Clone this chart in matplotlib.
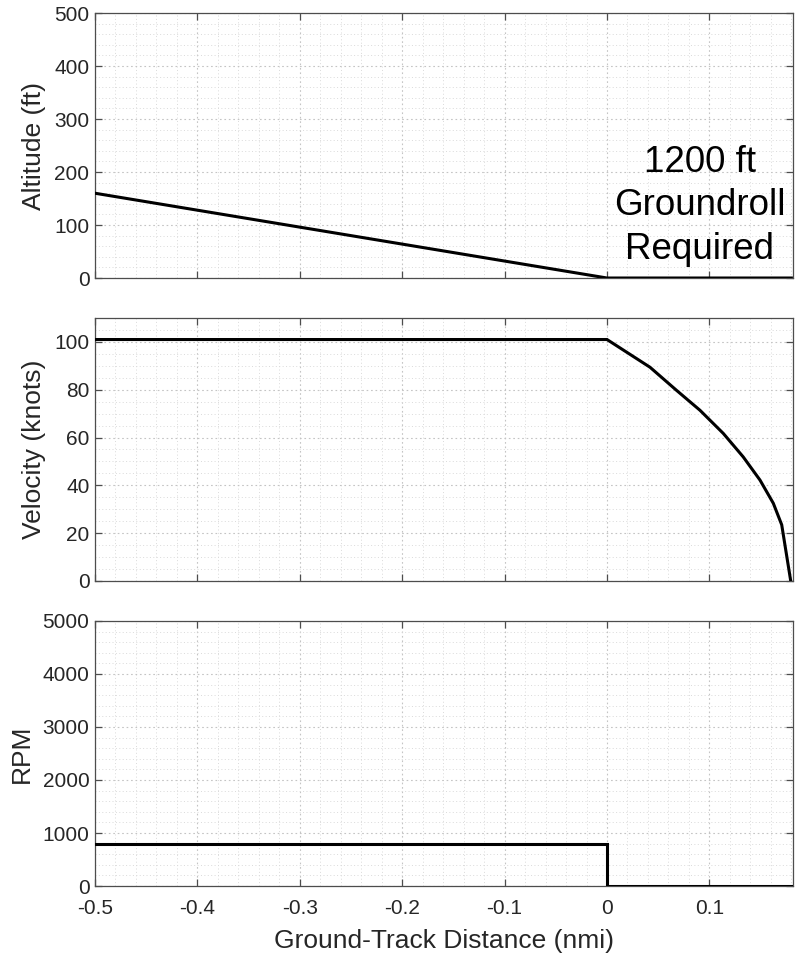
import matplotlib
matplotlib.use("Agg")
import matplotlib.pyplot as plt
from matplotlib.ticker import MultipleLocator

plt.rcParams['font.family'] = ['Liberation Sans', 'DejaVu Sans']

# Approach / groundroll profile
alt_dist = [-0.5, 0.0, 0.18]
altitude = [160, 0, 0]

vel_dist = [-0.5, 0.0, 0.0192, 0.042, 0.068, 0.0908, 0.1136, 0.133,
            0.1494, 0.1624, 0.1706, 0.1794]
velocity = [101, 101, 95.7, 89.4, 79.7, 71.4, 61.7, 51.9,
            42.2, 32.5, 23.5, 0.0]

rpm_dist = [-0.5, 0.0, 0.0, 0.18]
rpm = [800, 800, 0, 0]

xlim = (-0.5, 0.1816)
xticks = [-0.5, -0.4, -0.3, -0.2, -0.1, 0, 0.1]
xticklabels = ['-0.5', '-0.4', '-0.3', '-0.2', '-0.1', '0', '0.1']

annotation = "1200 ft\nGroundroll\nRequired"

tick_color = '#262626'
axis_color = '#4d4d4d'

fig = plt.figure(figsize=(7.98, 9.59), dpi=100)

left, width = 0.119, 0.8747
boxes = [(0.7101, 0.2763), (0.3942, 0.2742), (0.0761, 0.2764)]

panels = [
    dict(x=alt_dist, y=altitude, ylim=(0, 500), major=100, minor=20,
         ylabel='Altitude (ft)'),
    dict(x=vel_dist, y=velocity, ylim=(0, 110), major=20, minor=5,
         ylabel='Velocity (knots)'),
    dict(x=rpm_dist, y=rpm, ylim=(0, 5000), major=1000, minor=200,
         ylabel='RPM'),
]

axes = []
for (bottom, height), p in zip(boxes, panels):
    ax = fig.add_axes([left, bottom, width, height])
    ax.plot(p['x'], p['y'], color='black', linewidth=2.2, zorder=3,
            solid_joinstyle='miter')
    ax.set_xlim(*xlim)
    ax.set_ylim(*p['ylim'])
    ax.set_xticks(xticks)
    ax.xaxis.set_minor_locator(MultipleLocator(0.02))
    ax.yaxis.set_major_locator(MultipleLocator(p['major']))
    ax.yaxis.set_minor_locator(MultipleLocator(p['minor']))
    ax.grid(which='major', color='#c4c4c4', linestyle=(0, (1.5, 2.5)),
            linewidth=0.8)
    ax.grid(which='minor', color='#dadada', linestyle=(0, (1.0, 2.5)),
            linewidth=0.7)
    ax.set_axisbelow(True)
    ax.tick_params(which='major', direction='in', length=5, width=0.9,
                   top=True, right=True, colors=axis_color,
                   labelcolor=tick_color, labelsize=15, pad=4)
    ax.tick_params(axis='x', which='major', pad=9)
    ax.tick_params(which='minor', length=0, top=True, right=True)
    for s in ax.spines.values():
        s.set_color(axis_color)
        s.set_linewidth(0.9)
    ax.set_ylabel(p['ylabel'], fontsize=19, color=tick_color, labelpad=6)
    axes.append(ax)

for ax in axes[:2]:
    ax.tick_params(labelbottom=False)

axes[2].set_xticklabels(xticklabels)
axes[2].set_xlabel('Ground-Track Distance (nmi)', fontsize=19,
                   color=tick_color, labelpad=8)

axes[0].text(0.0905, 136, annotation, ha='center', va='center',
             fontsize=26.5, color='black', linespacing=1.3, zorder=4)

fig.savefig('out.png', dpi=100)
